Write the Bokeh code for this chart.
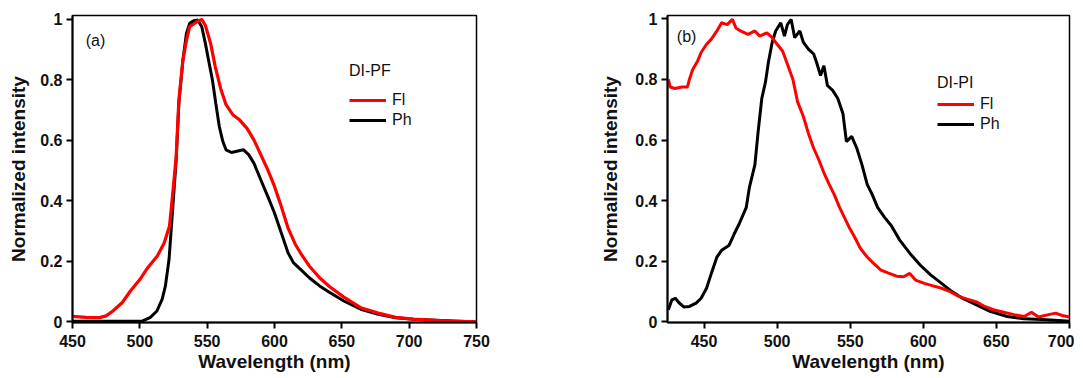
from bokeh.plotting import figure
from bokeh.layouts import row
from bokeh.models import FixedTicker, Legend, LegendItem, Label, Range1d
from bokeh.embed import file_html
from bokeh.resources import INLINE

# ---------------- data: panel (a) DI-PF ----------------
a_fl_x = [450, 460, 470, 475, 480, 487, 493, 500, 506, 513, 518, 522, 524, 527, 529,
          532, 534.6, 537, 540, 543.6, 546, 548.7, 552.6, 556, 560, 564, 569, 574,
          579.6, 584.7, 589.8, 595, 600, 605, 610, 615.5, 620.7, 625.8, 633.5, 641,
          651.5, 664, 677, 690, 703, 729, 750]
a_fl_y = [0.018, 0.015, 0.014, 0.02, 0.036, 0.064, 0.102, 0.14, 0.18, 0.218, 0.26, 0.316,
          0.404, 0.547, 0.734, 0.866, 0.93, 0.976, 0.985, 0.996, 1.0, 0.98, 0.92, 0.844,
          0.772, 0.718, 0.685, 0.668, 0.64, 0.602, 0.553, 0.503, 0.448, 0.382, 0.311,
          0.256, 0.218, 0.185, 0.146, 0.116, 0.082, 0.047, 0.029, 0.015, 0.009, 0.003, 0.0]
a_ph_x = [450, 470, 490, 502, 507.6, 512.7, 516.6, 519, 521.7, 524, 527, 529, 532, 534.6,
          537, 540, 543, 546, 548.7, 551, 553.9, 556.4, 559, 561.6, 564, 568, 572, 577,
          580.8, 584.7, 589.8, 595, 600, 605, 610, 614, 620.7, 625.8, 633.5, 641, 651.5,
          664, 677, 690, 703, 750]
a_ph_y = [0.002, 0.002, 0.002, 0.003, 0.014, 0.036, 0.075, 0.119, 0.207, 0.35, 0.536,
          0.723, 0.866, 0.954, 0.987, 0.996, 0.998, 0.976, 0.92, 0.866, 0.8, 0.723, 0.646,
          0.597, 0.569, 0.56, 0.564, 0.569, 0.553, 0.525, 0.47, 0.415, 0.36, 0.295, 0.229,
          0.196, 0.168, 0.146, 0.119, 0.097, 0.069, 0.042, 0.025, 0.014, 0.009, 0.0]

# ---------------- data: panel (b) DI-PI ----------------
b_fl_x = [425.6, 426.8, 430, 435, 438.6, 440, 442, 445.7, 448, 451.7, 455, 458.8, 462,
          465.8, 469.4, 471.8, 475, 480, 484.8, 488, 493, 496.6, 500, 503.7, 507, 510.8,
          514, 518, 521.4, 525, 528.5, 532, 535.6, 539, 542.7, 546, 549.8, 553, 557,
          561.6, 566, 571, 575.8, 581.7, 586.5, 590.7, 594.7, 600.7, 606.6, 612.5, 618.4,
          624.3, 630, 636, 642, 648, 655, 662, 669, 674, 678.7, 685.8, 690.5, 695, 700]
b_fl_y = [0.80, 0.775, 0.77, 0.775, 0.775, 0.80, 0.83, 0.862, 0.889, 0.916, 0.933, 0.96,
          0.987, 0.981, 0.998, 0.97, 0.96, 0.949, 0.96, 0.943, 0.954, 0.938, 0.916, 0.894,
          0.851, 0.80, 0.726, 0.677, 0.622, 0.573, 0.535, 0.492, 0.454, 0.421, 0.378,
          0.345, 0.307, 0.28, 0.242, 0.214, 0.193, 0.171, 0.162, 0.151, 0.149, 0.16, 0.138,
          0.127, 0.119, 0.111, 0.10, 0.084, 0.075, 0.067, 0.051, 0.04, 0.032, 0.024, 0.018,
          0.032, 0.016, 0.024, 0.029, 0.021, 0.016]
b_ph_x = [425.6, 428, 430.4, 432.7, 436.3, 440, 444.6, 448, 451.7, 455, 458.8, 462, 467,
          470.6, 474, 478.9, 481, 484.8, 487, 489.5, 492, 494, 496.6, 499, 502.5, 505, 507,
          509.6, 512, 515.5, 518, 521.4, 525, 527, 529.7, 532, 534.4, 538, 541.5, 545,
          547.4, 551, 554.5, 558, 561.6, 565, 568.7, 573.5, 578, 584, 591, 598, 605, 612.5,
          619.6, 626.7, 636, 645.6, 657.4, 669, 681, 693, 700]
b_ph_y = [0.04, 0.073, 0.078, 0.064, 0.049, 0.051, 0.062, 0.078, 0.111, 0.16, 0.214, 0.236,
          0.252, 0.29, 0.323, 0.378, 0.443, 0.519, 0.628, 0.737, 0.791, 0.856, 0.922, 0.96,
          0.987, 0.943, 0.981, 0.998, 0.938, 0.96, 0.922, 0.90, 0.884, 0.856, 0.813, 0.845,
          0.78, 0.764, 0.737, 0.688, 0.595, 0.612, 0.573, 0.519, 0.454, 0.421, 0.378, 0.345,
          0.318, 0.269, 0.225, 0.187, 0.155, 0.127, 0.10, 0.078, 0.057, 0.035, 0.018, 0.01,
          0.008, 0.005, 0.002]

a_xticks = [450, 500, 550, 600, 650, 700, 750]
b_xticks = [450, 500, 550, 600, 650, 700]
y_ticks = [0, 0.2, 0.4, 0.6, 0.8, 1]
y_tick_labels = {0: "0", 0.2: "0.2", 0.4: "0.4", 0.6: "0.6", 0.8: "0.8", 1: "1"}

RED = "#ff0000"
BLACK = "#000000"
FONT = "Liberation Sans"


def style(p, xticks, ylabel_standoff):
    p.xgrid.visible = False
    p.ygrid.visible = False
    p.outline_line_color = "black"
    p.outline_line_width = 1.5
    p.background_fill_color = "white"
    p.border_fill_color = "white"
    p.xaxis.ticker = FixedTicker(ticks=xticks)
    p.yaxis.ticker = FixedTicker(ticks=y_ticks)
    p.yaxis.major_label_overrides = y_tick_labels
    for ax in (p.xaxis, p.yaxis):
        ax.axis_line_width = 2
        ax.axis_line_color = "black"
        ax.major_tick_line_width = 2
        ax.major_tick_line_color = "black"
        ax.major_tick_out = 6
        ax.major_tick_in = 0
        ax.minor_tick_line_color = None
        ax.major_label_text_font = FONT
        ax.major_label_text_font_style = "bold"
        ax.major_label_text_font_size = "16px"
        ax.major_label_text_color = "#111111"
        ax.axis_label_text_font = FONT
        ax.axis_label_text_font_style = "bold"
        ax.axis_label_text_color = "#111111"
    p.xaxis.axis_label = "Wavelength (nm)"
    p.yaxis.axis_label = "Normalized intensity"
    p.xaxis.axis_label_text_font_size = "19px"
    p.yaxis.axis_label_text_font_size = "19px"
    p.xaxis.major_label_standoff = 6
    p.xaxis.axis_label_standoff = 1
    p.yaxis.major_label_standoff = 4
    p.yaxis.axis_label_standoff = ylabel_standoff


def add_legend(p, title, r_fl, r_ph, x, y, standoff):
    leg = Legend(items=[LegendItem(label="Fl", renderers=[r_fl]),
                        LegendItem(label="Ph", renderers=[r_ph])],
                 location=(x, y), title=title,
                 title_text_font=FONT, title_text_font_size="16px",
                 title_text_font_style="normal", title_text_color="#111111",
                 title_standoff=standoff,
                 label_text_font=FONT, label_text_font_size="16px",
                 label_text_color="#111111",
                 glyph_width=37, glyph_height=20, label_height=20,
                 label_standoff=6, spacing=0, padding=0, margin=0,
                 border_line_alpha=0, background_fill_alpha=0)
    p.add_layout(leg)


# ---------------- panel (a) ----------------
p1 = figure(width=567, height=375, output_backend="svg", toolbar_location=None,
            x_range=Range1d(450, 750), y_range=Range1d(-0.002, 1.013),
            min_border_left=72, min_border_right=91, min_border_top=14, min_border_bottom=53)
style(p1, a_xticks, 8)
r_ph1 = p1.line(a_ph_x, a_ph_y, color=BLACK, line_width=3)
r_fl1 = p1.line(a_fl_x, a_fl_y, color=RED, line_width=3.2)
add_legend(p1, "DI-PF", r_fl1, r_ph1, 277, 192, 10)
p1.add_layout(Label(x=459.8, y=0.93, text="(a)", text_font=FONT, text_font_size="16px",
                    text_baseline="middle", text_color="#111111"))

# ---------------- panel (b) ----------------
p2 = figure(width=507, height=375, output_backend="svg", toolbar_location=None,
            x_range=Range1d(425, 700), y_range=Range1d(-0.002, 1.011),
            min_border_left=100, min_border_right=5, min_border_top=15, min_border_bottom=51)
style(p2, b_xticks, 11)
r_ph2 = p2.line(b_ph_x, b_ph_y, color=BLACK, line_width=3)
r_fl2 = p2.line(b_fl_x, b_fl_y, color=RED, line_width=3)
add_legend(p2, "DI-PI", r_fl2, r_ph2, 270, 188, 2)
p2.add_layout(Label(x=431.4, y=0.942, text="(b)", text_font=FONT, text_font_size="16px",
                    text_baseline="middle", text_color="#111111"))

layout = row(p1, p2)
open("out.html", "w").write(file_html(layout, INLINE))
